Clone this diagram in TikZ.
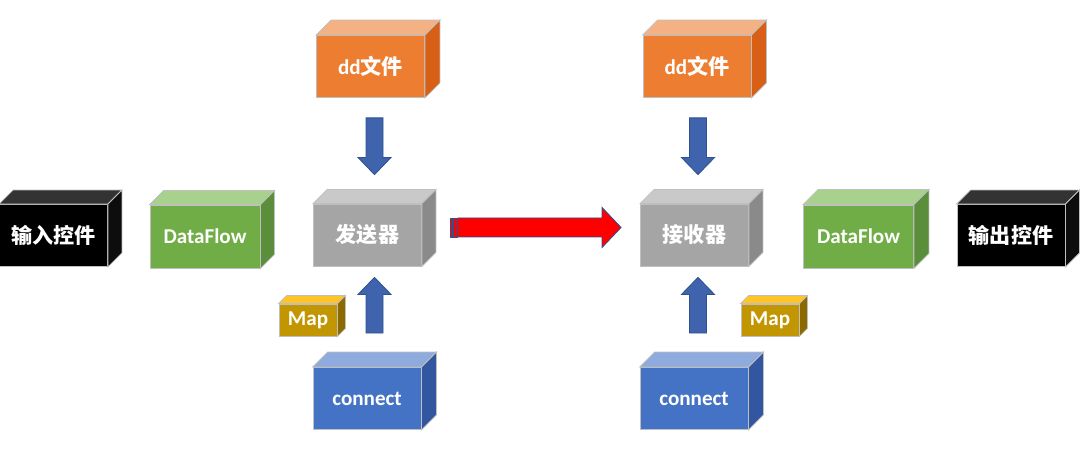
\documentclass[tikz,border=0pt]{standalone}
\usepackage{fontspec}
\setmainfont{Carlito}
\newfontfamily\cjk{Noto Sans CJK SC}
\usetikzlibrary{calc}

\definecolor{edge}{HTML}{BFBFBF}
\definecolor{arrowline}{HTML}{2F528F}
\definecolor{arrowfill}{HTML}{3F64AD}
\definecolor{blkfront}{HTML}{000000}
\definecolor{blktop}{HTML}{333333}
\definecolor{blkside}{HTML}{0D0D0D}
\definecolor{grnfront}{HTML}{70AD47}
\definecolor{grntop}{HTML}{A9D18E}
\definecolor{grnside}{HTML}{5A8E3A}
\definecolor{orgfront}{HTML}{ED7D31}
\definecolor{orgtop}{HTML}{F4B183}
\definecolor{orgside}{HTML}{D86016}
\definecolor{gryfront}{HTML}{A5A5A5}
\definecolor{grytop}{HTML}{C9C9C9}
\definecolor{gryside}{HTML}{8A8A8A}
\definecolor{blufront}{HTML}{4472C4}
\definecolor{blutop}{HTML}{8FAADC}
\definecolor{bluside}{HTML}{3257A0}
\definecolor{gldfront}{HTML}{C29600}
\definecolor{gldtop}{HTML}{FFC428}
\definecolor{gldside}{HTML}{8C6A00}

\newcommand{\zh}[1]{{\cjk\bfseries #1}}

% top and right faces of a box node
\newcommand{\cubefaces}[4]{%
  \filldraw[draw=edge,line width=0.6pt,fill=#3] (#1.north west) -- ++(#2,#2) -- ($(#1.north east)+(#2,#2)$) -- (#1.north east) -- cycle;
  \filldraw[draw=edge,line width=0.6pt,fill=#4] (#1.north east) -- ++(#2,#2) -- ($(#1.south east)+(#2,#2)$) -- (#1.south east) -- cycle;
}

% block arrow from #2 to #3: shaft half width, head half width, head length
\newcommand{\blockarrow}[6][]{%
  \coordinate (ah) at ($(#3)!#6!(#2)$);
  \filldraw[barrow,#1] ($(#2)!#4!-90:(#3)$) -- ($(ah)!#4!-90:(#3)$) -- ($(ah)!#5!-90:(#3)$) -- (#3)
    -- ($(ah)!#5!90:(#3)$) -- ($(ah)!#4!90:(#3)$) -- ($(#2)!#4!90:(#3)$) -- cycle;
}

\tikzset{
  box/.style={draw=edge, line width=0.6pt, text=white, inner sep=0pt,
    font=\fontsize{15}{18}\selectfont\bfseries, minimum width=2.7cm, minimum height=1.55cm},
  flowbox/.style={box, minimum width=2.75cm, minimum height=1.575cm},
  mapbox/.style={box, minimum width=1.45cm, minimum height=0.8cm},
  barrow/.style={draw=arrowline, line width=0.6pt, fill=arrowfill},
}

\begin{document}
\begin{tikzpicture}[x=0.025cm, y=0.025cm]

  \useasboundingbox (0,0) rectangle (1080,452);

  \node[box, fill=blkfront] (in) at (53.5,216.5) {\zh{输入控件}};
  \cubefaces{in}{14}{blktop}{blkside}
  \node[flowbox, fill=grnfront] (df1) at (205,215.5) {DataFlow};
  \cubefaces{df1}{14}{grntop}{grnside}

  \node[box, fill=orgfront] (dd1) at (370.5,385.5) {dd\zh{文件}};
  \cubefaces{dd1}{15}{orgtop}{orgside}
  \node[box, fill=gryfront] (send) at (367.5,217) {\zh{发送器}};
  \cubefaces{send}{14}{grytop}{gryside}
  \node[mapbox, fill=gldfront] (map1) at (308,132) {Map};
  \cubefaces{map1}{8}{gldtop}{gldside}
  \node[box, fill=blufront] (conn1) at (367,53.5) {connect};
  \cubefaces{conn1}{15}{blutop}{bluside}

  \node[box, fill=orgfront] (dd2) at (697,385.5) {dd\zh{文件}};
  \cubefaces{dd2}{15}{orgtop}{orgside}
  \node[box, fill=gryfront] (recv) at (694.5,217) {\zh{接收器}};
  \cubefaces{recv}{14}{grytop}{gryside}
  \node[mapbox, fill=gldfront] (map2) at (770,132) {Map};
  \cubefaces{map2}{8}{gldtop}{gldside}
  \node[box, fill=blufront] (conn2) at (694,53.5) {connect};
  \cubefaces{conn2}{15}{blutop}{bluside}

  \node[flowbox, fill=grnfront] (df2) at (858.5,215.5) {DataFlow};
  \cubefaces{df2}{15}{grntop}{grnside}
  \node[box, fill=blkfront] (out) at (1011,216.5) {\zh{输出控件}};
  \cubefaces{out}{14}{blktop}{blkside}

  % arrows
  \coordinate (dd1s) at ($(dd1.south)+(4,-20)$);
  \coordinate (sendn) at ($(send.north)+(7,29)$);
  \blockarrow{dd1s}{sendn}{0.2125cm}{0.4125cm}{0.425cm}
  \coordinate (conn1n) at ($(conn1.north)+(7.5,34)$);
  \coordinate (sends) at ($(send.south)+(7,-11)$);
  \blockarrow{conn1n}{sends}{0.2125cm}{0.4125cm}{0.425cm}

  \coordinate (dd2s) at ($(dd2.south)+(1,-20)$);
  \coordinate (recvn) at ($(recv.north)+(3.5,29)$);
  \blockarrow{dd2s}{recvn}{0.2125cm}{0.4125cm}{0.425cm}
  \coordinate (conn2n) at ($(conn2.north)+(4,34)$);
  \coordinate (recvs) at ($(recv.south)+(3.5,-11)$);
  \blockarrow{conn2n}{recvs}{0.2125cm}{0.4125cm}{0.425cm}

  \coordinate (sende) at ($(send.east)+(36,7.5)$);
  \coordinate (recvw) at ($(recv.west)+(-19,7.5)$);
  \filldraw[barrow, fill=red] ($(sende)+(-8,-9.5)$) rectangle ++(2.5,19);
  \filldraw[barrow, fill=red] ($(sende)+(-4.5,-9.5)$) rectangle ++(3.5,19);
  \blockarrow[fill=red]{sende}{recvw}{0.2375cm}{0.5cm}{0.475cm}

\end{tikzpicture}
\end{document}
